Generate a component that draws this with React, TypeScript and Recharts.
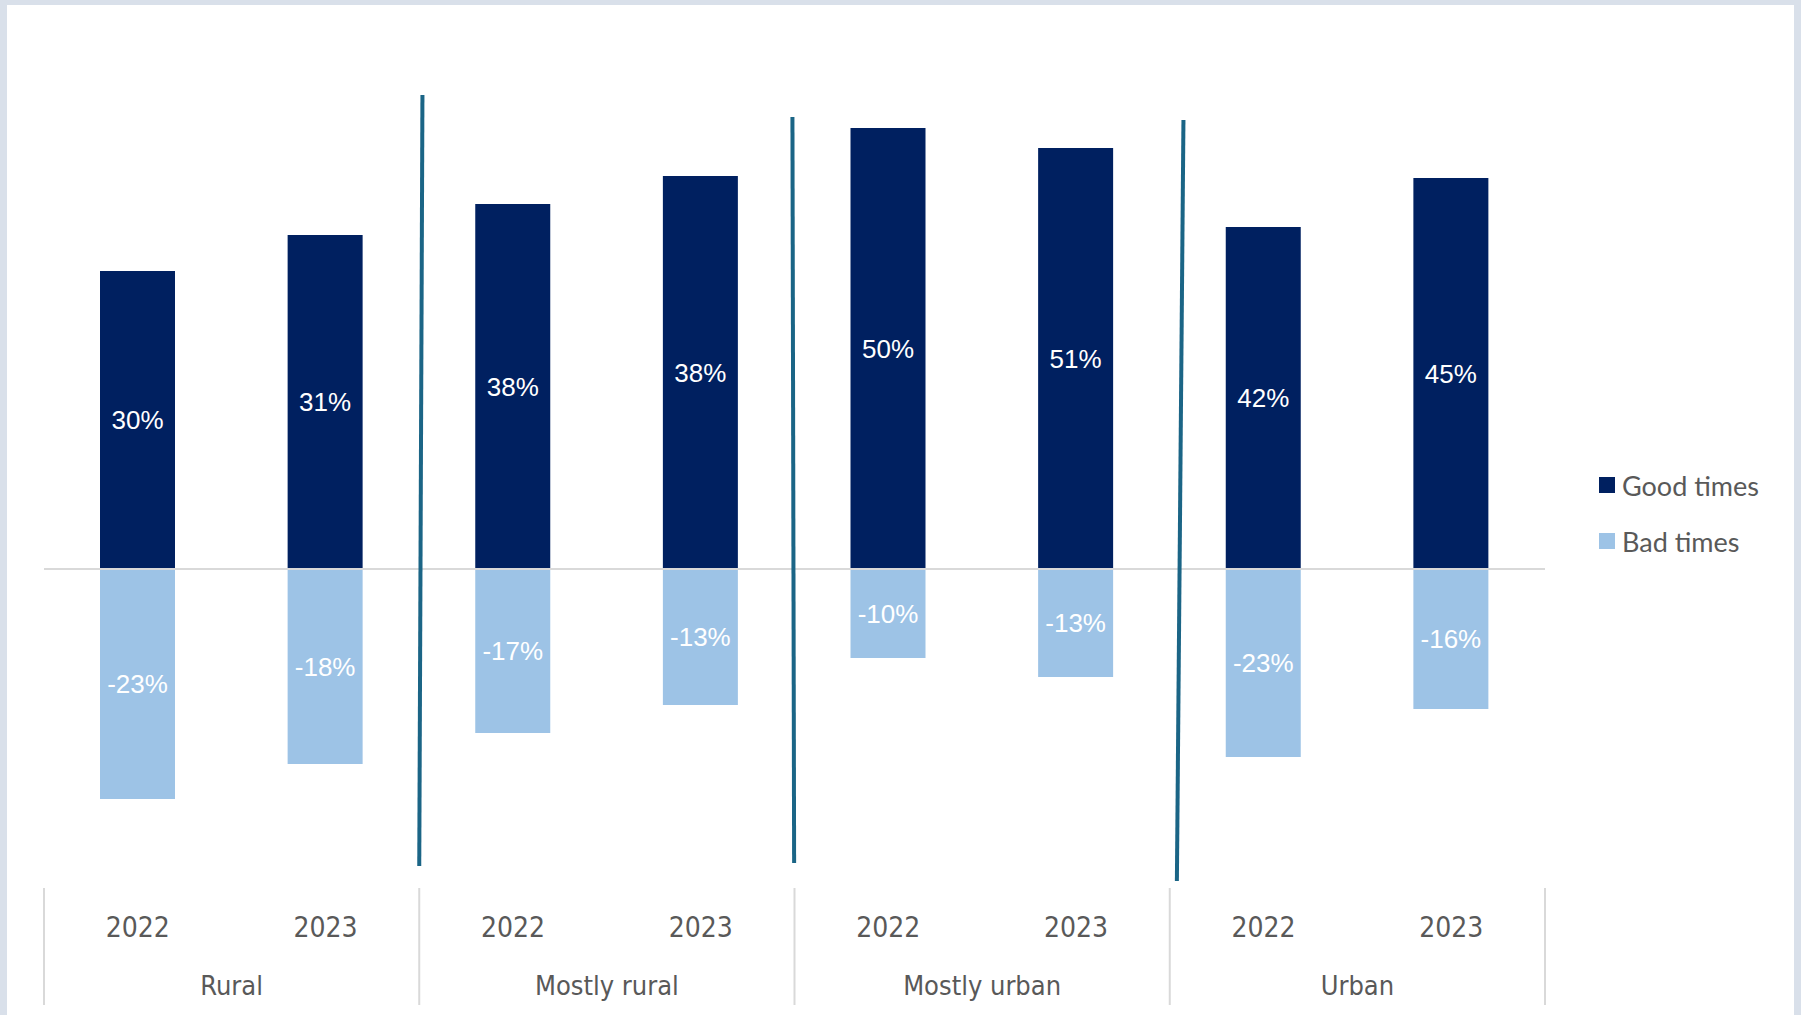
import React from "react";
import {
  ComposedChart,
  Bar,
  XAxis,
  YAxis,
  Legend,
  LabelList,
  ReferenceLine,
} from "recharts";

// values (bar heights) and the printed labels
const years = ["2022", "2023", "2022", "2023", "2022", "2023", "2022", "2023"];
const groups = ["Rural", "Rural", "Mostly rural", "Mostly rural", "Mostly urban", "Mostly urban", "Urban", "Urban"];
const goodValues = [29.8, 33.4, 36.5, 39.3, 44.1, 42.1, 34.2, 39.1];
const badValues = [-23.0, -19.5, -16.4, -13.6, -8.9, -10.8, -18.8, -14.0];
const goodLabels = [30, 31, 38, 38, 50, 51, 42, 45];
const badLabels = [-23, -18, -17, -13, -10, -13, -23, -16];

// hand drawn dividers between the groups, in (category index, value) units
const dividers = [
  [{ x: 1.517, y: 47.4 }, { x: 1.5, y: -29.7 }],
  [{ x: 3.489, y: 45.2 }, { x: 3.498, y: -29.4 }],
  [{ x: 5.573, y: 44.9 }, { x: 5.538, y: -31.2 }],
];

const data = years.map((year, i) => ({
  id: i,
  year,
  group: groups[i],
  good: goodValues[i],
  bad: badValues[i],
  goodLabel: goodLabels[i],
  badLabel: badLabels[i],
}));

const NAVY = "#002060";
const LIGHT = "#9DC3E6";
const AXIS_FONT = "'Liberation Sans Narrow', 'DejaVu Sans Condensed', Roboto, sans-serif";

// one axis draws the year row, the group row and the light separators
const CategoryTick = (props: any) => {
  const { x, y, payload } = props;
  const i = payload.index;
  const half = payload.offset;
  const first = i % 2 === 0;
  const last = i === years.length - 1;
  return (
    <g>
      <text
        x={x}
        y={y + 28}
        textAnchor="middle"
        dominantBaseline="central"
        fill="#595959"
        fontSize={28}
        fontFamily={AXIS_FONT}
      >
        {years[i]}
      </text>
      {first && (
        <line x1={x - half} x2={x - half} y1={y - 11} y2={y + 106} stroke="#d9d9d9" strokeWidth={2} />
      )}
      {last && (
        <line x1={x + half} x2={x + half} y1={y - 11} y2={y + 106} stroke="#d9d9d9" strokeWidth={2} />
      )}
      {first && (
        <text
          x={x + half}
          y={y + 86}
          textAnchor="middle"
          dominantBaseline="central"
          fill="#595959"
          fontSize={27}
          fontFamily={AXIS_FONT}
        >
          {groups[i]}
        </text>
      )}
    </g>
  );
};

const LegendContent = (props: any) => {
  const items = [...(props.payload || [])].sort((a: any, b: any) =>
    a.dataKey === "good" ? -1 : b.dataKey === "good" ? 1 : 0
  );
  return (
    <div>
      {items.map((entry: any, i: number) => (
        <div
          key={i}
          style={{
            display: "flex",
            alignItems: "center",
            height: 32,
            marginBottom: 24,
            fontFamily: "Lato, 'Open Sans', sans-serif",
            fontSize: 27,
            color: "#595959",
          }}
        >
          <span
            style={{
              width: 16,
              height: 16,
              background: entry.color,
              display: "inline-block",
              marginRight: 7,
            }}
          />
          {entry.value}
        </div>
      ))}
    </div>
  );
};

export default function App() {
  return (
    <div
      style={{
        position: "absolute",
        left: 0,
        top: 0,
        width: 1801,
        height: 1015,
        background: "#d9e0ea",
        overflow: "hidden",
      }}
    >
      <div
        style={{
          position: "absolute",
          left: 7,
          top: 5,
          width: 1787,
          height: 1010,
          background: "#ffffff",
        }}
      />
      <div style={{ position: "absolute", left: 0, top: 0 }}>
        <ComposedChart
          width={1801}
          height={1015}
          data={data}
          stackOffset="sign"
          margin={{ top: 69, right: 256, bottom: 0, left: 44 }}
        >
          <XAxis
            xAxisId="year"
            dataKey="id"
            axisLine={false}
            tickLine={false}
            tickSize={0}
            tickMargin={0}
            height={146}
            interval={0}
            tick={<CategoryTick />}
          />
          <XAxis
            xAxisId="pos"
            dataKey="id"
            type="number"
            domain={[-0.5, 7.5]}
            allowDataOverflow
            hide
          />
          <YAxis yAxisId="v" domain={[-30, 50]} hide allowDataOverflow />
          <Legend
            verticalAlign="middle"
            layout="horizontal"
            content={<LegendContent />}
            wrapperStyle={{ left: 1599, top: 469, width: 200, bottom: "auto", right: "auto" }}
          />
          <Bar
            xAxisId="year"
            yAxisId="v"
            dataKey="good"
            name="Good times"
            stackId="a"
            fill={NAVY}
            barSize={75}
            isAnimationActive={false}
          >
            <LabelList
              dataKey="goodLabel"
              position="center"
              formatter={(v: any) => `${v}%`}
              fill="#ffffff"
              fontSize={26}
              fontFamily="'Liberation Sans', Arial, sans-serif"
            />
          </Bar>
          <Bar
            xAxisId="year"
            yAxisId="v"
            dataKey="bad"
            name="Bad times"
            stackId="a"
            fill={LIGHT}
            barSize={75}
            isAnimationActive={false}
          >
            <LabelList
              dataKey="badLabel"
              position="center"
              formatter={(v: any) => `${v}%`}
              fill="#ffffff"
              fontSize={26}
              fontFamily="'Liberation Sans', Arial, sans-serif"
            />
          </Bar>
          <ReferenceLine xAxisId="year" yAxisId="v" y={0} stroke="#d9d9d9" strokeWidth={2} />
          {dividers.map((seg, i) => (
            <ReferenceLine
              key={i}
              xAxisId="pos"
              yAxisId="v"
              segment={seg}
              stroke="#1B6586"
              strokeWidth={4}
              ifOverflow="visible"
            />
          ))}
        </ComposedChart>
      </div>
    </div>
  );
}
